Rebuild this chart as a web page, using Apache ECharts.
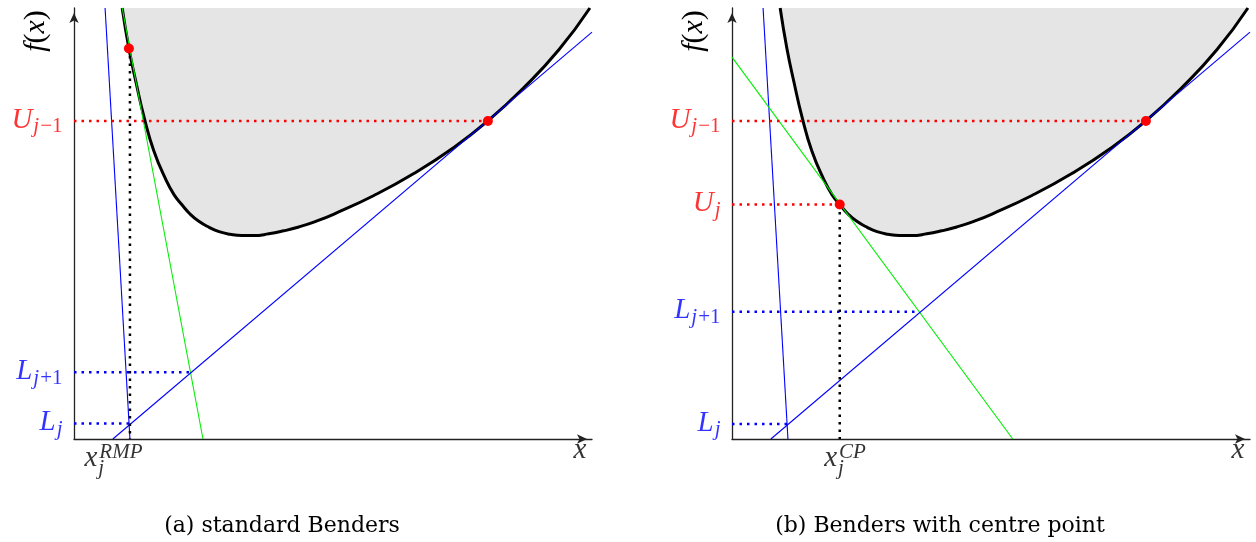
<!DOCTYPE html>
<html>
<head>
<meta charset="utf-8">
<script src="https://cdn.jsdelivr.net/npm/echarts@6/dist/echarts.min.js"></script>
<style>
html, body { margin: 0; background: #fff; }
#main { width: 1256px; height: 542px; }
</style>
</head>
<body>
<div id="main"></div>
<script>
/** Benders cuts: standard vs centre point */
// f(x) (same curve in both panels)
var curveX = [ 0.93, 1.06, 1.20, 1.35, 1.54, 1.78, 1.93, 2.08, 2.24, 2.41, 2.61, 2.80,
		3.01, 3.24, 3.47, 3.76, 4.05, 4.34, 4.67, 5.02, 5.79, 6.56, 7.34, 7.99,
		8.69, 9.36, 9.96 ];
var curveY = [ 10.0, 9.06, 8.26, 7.48, 6.69, 6.00, 5.67, 5.44, 5.22, 5.05, 4.91, 4.81,
		4.75, 4.72, 4.72, 4.76, 4.83, 4.92, 5.05, 5.22, 5.65, 6.16, 6.77, 7.38,
		8.16, 9.03, 10.0 ];

// cuts (two end points each)
var cutSteep = [ [ 0.60, 10.0 ], [ 1.08, 0 ] ];     // blue, both panels
var cutSlope = [ [ 0.75, 0 ], [ 10.0, 9.44 ] ];     // blue, both panels
var cutGreenA = [ [ 0.93, 10.0 ], [ 2.49, 0 ] ];    // green, panel a
var cutGreenB = [ [ 0, 8.86 ], [ 5.42, 0 ] ];       // green, panel b

// evaluated points
var dotsA = [ [ 1.06, 9.06 ], [ 7.99, 7.38 ] ];
var dotsB = [ [ 2.08, 5.44 ], [ 7.99, 7.38 ] ];

// bound levels [level, x where the dotted line stops]
var upperA = [ [ 7.38, 7.99 ] ];
var lowerA = [ [ 1.55, 2.24 ], [ 0.36, 1.08 ] ];
var upperB = [ [ 7.38, 7.99 ], [ 5.44, 2.08 ] ];
var lowerB = [ [ 2.95, 3.61 ], [ 0.35, 1.08 ] ];
var xjA = 1.08, xjB = 2.08;

var RED = '#ff0000', BLUE = '#0000ff', GREEN = '#00ee00';
var MATH = '"Liberation Serif", "DejaVu Serif", serif';

var curve = curveX.map(function(x, i) { return [ x, curveY[i] ]; });

var rich = {
	m : { fontFamily : MATH, fontStyle : 'italic', fontSize : 29, lineHeight : 32, padding : [ 4, 0, 0, 0 ], verticalAlign : 'top' },
	s : { fontFamily : MATH, fontStyle : 'italic', fontSize : 21, lineHeight : 21, padding : [ 15, 0, 0, 1 ], verticalAlign : 'top' },
	sr : { fontFamily : MATH, fontSize : 21, lineHeight : 21, padding : [ 15, 0, 0, 1 ], verticalAlign : 'top' },
	sb : { fontFamily : MATH, fontStyle : 'italic', fontSize : 21, lineHeight : 21, padding : [ 18, 0, 0, 1 ], width : 0, verticalAlign : 'top' },
	sp : { fontFamily : MATH, fontStyle : 'italic', fontSize : 21, lineHeight : 21, padding : [ 2, 0, 0, 1 ], verticalAlign : 'top' }
};

function seg(data, color, g, dotted) {
	return {
		type : 'line',
		xAxisIndex : g,
		yAxisIndex : g,
		data : data,
		showSymbol : false,
		silent : true,
		lineStyle : dotted ? { color : color, width : 2.5, type : [ 2.5, 5 ] } : { color : color, width : 1.1 }
	};
}

function dots(data, g) {
	return {
		type : 'scatter',
		xAxisIndex : g,
		yAxisIndex : g,
		data : data,
		symbol : 'circle',
		symbolSize : 10,
		z : 5,
		itemStyle : { color : RED, opacity : 1 },
		silent : true
	};
}

function yLabel(level, text, color) {
	return {
		value : [ 0, level ],
		label : { formatter : function() { return text; }, color : color, position : [ -11, -3 ], align : 'right', verticalAlign : 'middle' }
	};
}

function labels(items, g) {
	return {
		type : 'scatter',
		xAxisIndex : g,
		yAxisIndex : g,
		data : items,
		symbolSize : 1,
		clip : false,
		silent : true,
		itemStyle : { color : 'transparent' },
		label : { show : true, rich : rich }
	};
}

function xLabel(x, text, dx, dy) {
	return {
		value : [ x, 0 ],
		label : { formatter : function() { return text; }, color : '#000', position : [ dx, dy ], align : 'left', verticalAlign : 'top' }
	};
}

var series = [];
[ 0, 1 ].forEach(function(g) {
	series.push({
		type : 'line',
		xAxisIndex : g,
		yAxisIndex : g,
		data : curve,
		smooth : true,
		showSymbol : false,
		silent : true,
		lineStyle : { color : '#000', width : 3 },
		areaStyle : { color : '#e5e5e5', opacity : 1, origin : 'end' }
	});
	series.push(seg(cutSteep, BLUE, g));
	series.push(seg(g === 0 ? cutGreenA : cutGreenB, GREEN, g));
	series.push(seg(cutSlope, BLUE, g));
});

// panel a guides
upperA.forEach(function(u) { series.push(seg([ [ 0, u[0] ], [ u[1], u[0] ] ], RED, 0, true)); });
lowerA.forEach(function(l) { series.push(seg([ [ 0, l[0] ], [ l[1], l[0] ] ], BLUE, 0, true)); });
series.push(seg([ [ xjA, dotsA[0][1] ], [ xjA, 0 ] ], '#000', 0, true));
series.push(dots(dotsA, 0));
series.push(labels([
	yLabel(upperA[0][0], '{m|U}{s|j}{sr|\u22121}', RED),
	yLabel(lowerA[0][0], '{m|L}{s|j}{sr|+1}', BLUE),
	yLabel(lowerA[1][0], '{m|L}{s|j}', BLUE),
	xLabel(xjA, '{m|x}{sb|j}{sp|RMP}', -45, 1),
	xLabel(9.77, '{m|x}', -6, -7)
], 0));

// panel b guides
upperB.forEach(function(u) { series.push(seg([ [ 0, u[0] ], [ u[1], u[0] ] ], RED, 1, true)); });
lowerB.forEach(function(l) { series.push(seg([ [ 0, l[0] ], [ l[1], l[0] ] ], BLUE, 1, true)); });
series.push(seg([ [ xjB, dotsB[0][1] ], [ xjB, 0 ] ], '#000', 1, true));
series.push(dots(dotsB, 1));
series.push(labels([
	yLabel(upperB[0][0], '{m|U}{s|j}{sr|\u22121}', RED),
	yLabel(upperB[1][0], '{m|U}{s|j}', RED),
	yLabel(lowerB[0][0], '{m|L}{s|j}{sr|+1}', BLUE),
	yLabel(lowerB[1][0], '{m|L}{s|j}', BLUE),
	xLabel(xjB, '{m|x}{sb|j}{sp|CP}', -15, 1),
	xLabel(9.77, '{m|x}', -6, -7)
], 1));

function axis(g) {
	return {
		gridIndex : g,
		type : 'value',
		min : 0,
		max : 10,
		axisLine : {
			onZero : false,
			symbol : [ 'none', 'arrow' ],
			symbolSize : [ 7, 10 ],
			symbolOffset : [ 0, -5 ],
			lineStyle : { color : '#222', width : 1.3 }
		},
		axisTick : { show : false },
		axisLabel : { show : false },
		splitLine : { show : false }
	};
}

function fx(x) {
	return {
		type : 'text',
		x : x,
		y : 31,
		rotation : Math.PI / 2,
		style : {
			text : '{i|f}{r|(}{i|x}{r|)}',
			rich : {
				i : { fontFamily : MATH, fontStyle : 'italic', fontSize : 30, fill : '#000' },
				r : { fontFamily : MATH, fontSize : 30, fill : '#000' }
			},
			align : 'center',
			verticalAlign : 'middle'
		}
	};
}

function caption(x, text) {
	return {
		type : 'text',
		x : x,
		y : 526,
		style : {
			text : text,
			fontFamily : '"DejaVu Serif", serif',
			fontSize : 22,
			fill : '#000',
			align : 'center',
			verticalAlign : 'middle'
		}
	};
}

var myChart = echarts.init(document.getElementById('main'));
var option = {
	animation : false,
	grid : [ { left : 74, top : 8, width : 518, height : 431 },
			{ left : 732, top : 8, width : 518, height : 431 } ],
	xAxis : [ axis(0), axis(1) ],
	yAxis : [ axis(0), axis(1) ],
	series : series,
	graphic : [ fx(36), fx(694), caption(282, '(a) standard Benders'),
			caption(940, '(b) Benders with centre point') ]
};
myChart.setOption(option);
</script>
</body>
</html>
